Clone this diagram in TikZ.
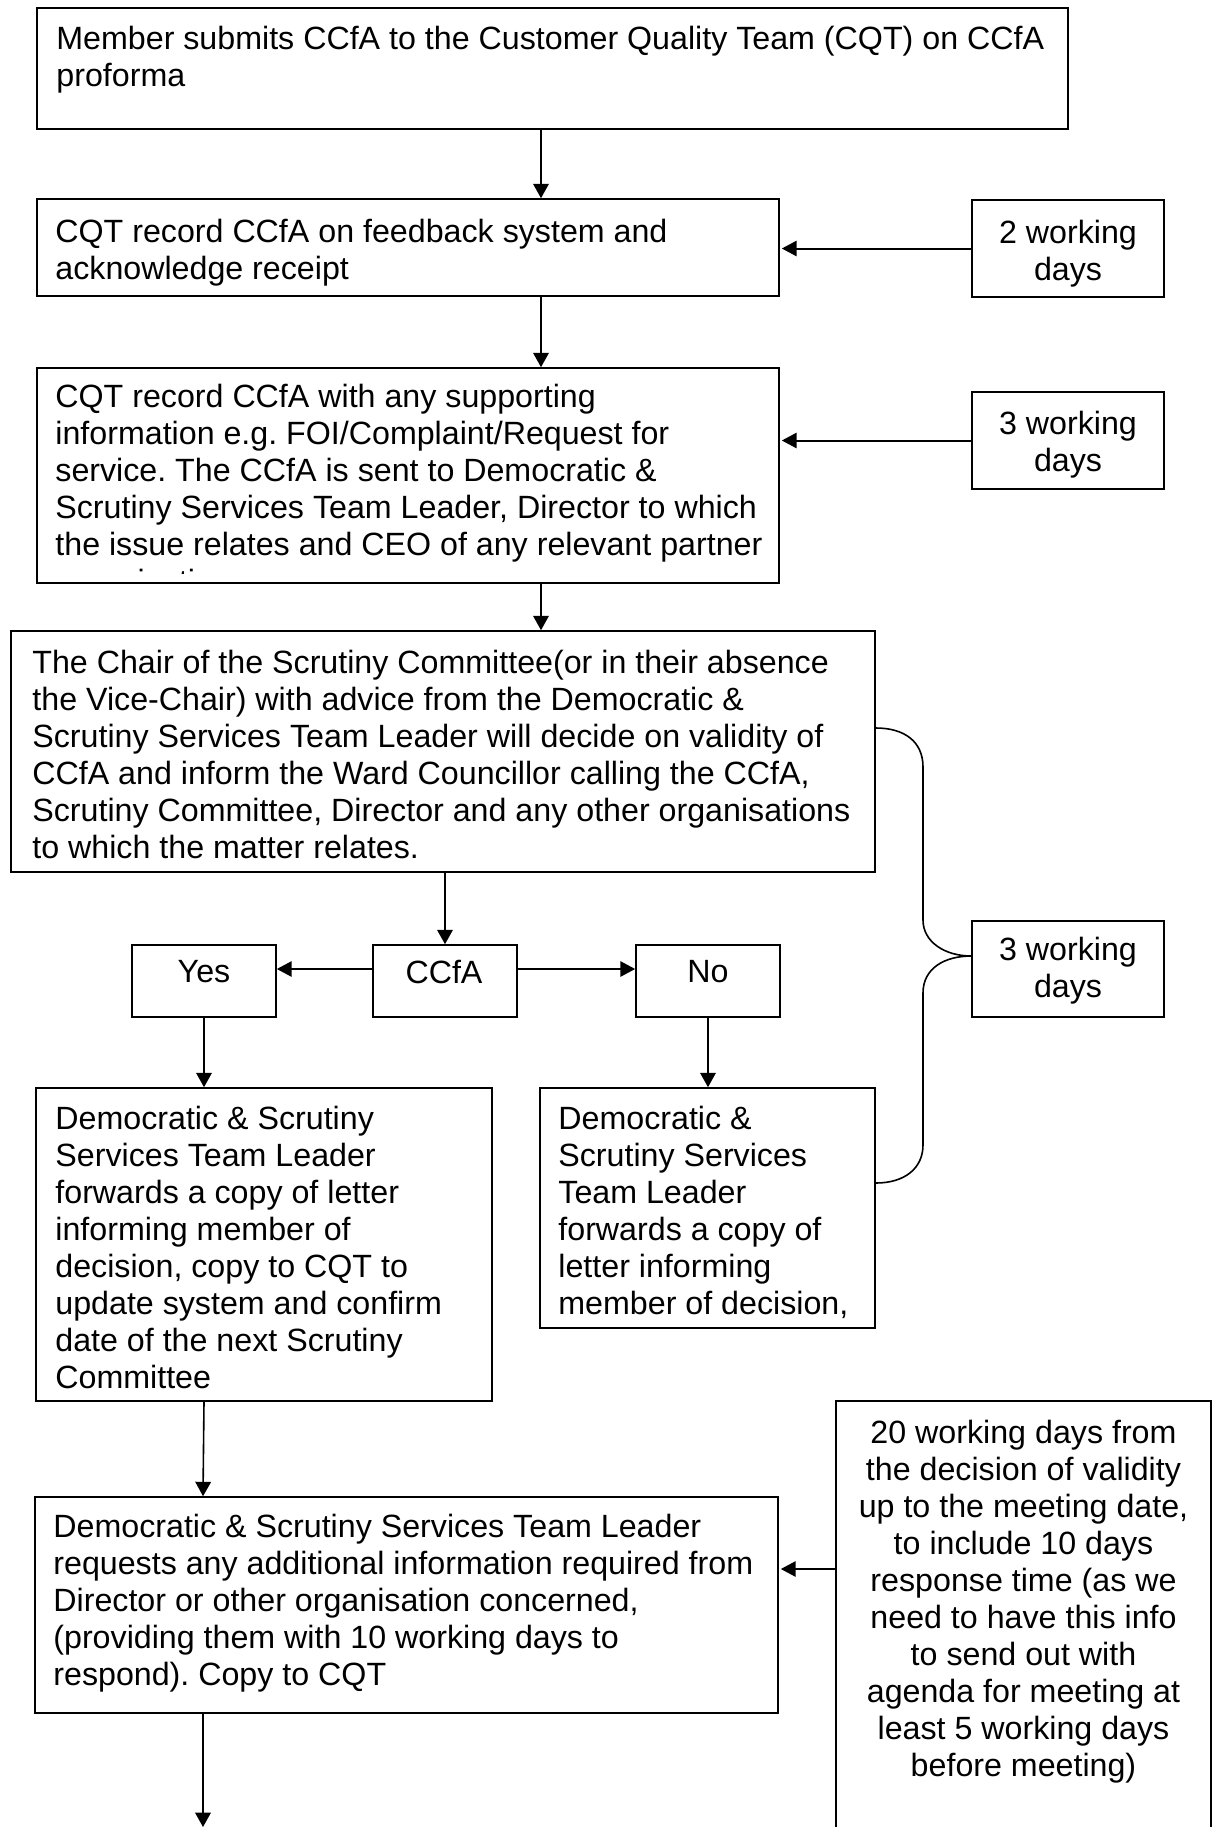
\documentclass[tikz,border=0pt]{standalone}
\usepackage{fontspec}
\setmainfont{Liberation Sans}
\frenchspacing
\usetikzlibrary{arrows.meta,fit}
\begin{document}
\begin{tikzpicture}[x=0.5pt,y=-0.5pt,
  box/.style={draw, line width=0.8pt, inner sep=0pt},
  txt/.style={inner sep=0pt, align=left, anchor=north west, font=\fontsize{16.1pt}{18.5pt}\selectfont},
  ctxt/.style={inner sep=0pt, align=center, anchor=north, font=\fontsize{16.1pt}{18.5pt}\selectfont},
  arr/.style={line width=0.8pt, -{Triangle[length=7.2pt,width=7.8pt]}},
  harr/.style={line width=1pt, -{Triangle[length=7.4pt,width=7.6pt]}},
  link/.style={line width=0.8pt}]
\useasboundingbox (0,0) rectangle (1213,1827);

% boxes
\node[box, fit={(37,8)(1068,129)}] (b1) {};
\node[box, fit={(37,199)(779,296)}] (b2) {};
\node[box, fit={(972,200)(1164,297)}] (t2) {};
\node[box, fit={(37,368)(779,583)}] (b3) {};
\node[box, fit={(972,392)(1164,489)}] (t3) {};
\node[box, fit={(11,631)(875,872)}] (b4) {};
\node[box, fit={(373,945)(517,1017)}] (ccfa) {};
\node[box, fit={(132,945)(276,1017)}] (yes) {};
\node[box, fit={(636,945)(780,1017)}] (no) {};
\node[box, fit={(972,921)(1164,1017)}] (t4) {};
\node[box, fit={(36,1088)(492,1401)}] (yl) {};
\node[box, fit={(540,1088)(875,1328)}] (nl) {};
\node[box, fit={(35,1497)(778,1713)}] (rq) {};
\node[box, fit={(836,1401)(1211,1840)}] (t5) {};

% texts
\node[txt] (b1t) at (56,26) {Member submits CCfA to the Customer Quality Team (CQT) on CCfA\\proforma};
\node[txt] (b2t) at (55,219) {CQT record CCfA on feedback system and\\acknowledge receipt};
\begin{scope}
\clip (38,369) rectangle (778,573);
\node[txt] (b3t) at (55,384) {CQT record CCfA with any supporting\\information e.g. FOI/Complaint/Request for\\service. The CCfA is sent to Democratic \&\\Scrutiny Services Team Leader, Director to which\\the issue relates and CEO of any relevant partner\\organisation};
\end{scope}
\node[ctxt] (t2t) at (1068,220) {2 working\\days};
\node[ctxt] (t3t) at (1068,411) {3 working\\days};
\node[txt] (b4t) at (32,650) {The Chair of the Scrutiny Committee(or in their absence\\the Vice-Chair) with advice from the Democratic \&\\Scrutiny Services Team Leader will decide on validity of\\CCfA and inform the Ward Councillor calling the CCfA,\\Scrutiny Committee, Director and any other organisations\\to which the matter relates.};
\node[ctxt] (yest) at (204,960) {Yes};
\node[ctxt] (ccfat) at (444,960) {CCfA};
\node[ctxt] (not) at (708,960) {No};
\node[ctxt] (t4t) at (1068,937) {3 working\\days};
\node[txt] (ylt) at (55,1106) {Democratic \& Scrutiny\\Services Team Leader\\forwards a copy of letter\\informing member of\\decision, copy to CQT to\\update system and confirm\\date of the next Scrutiny\\Committee};
\node[txt] (nlt) at (558,1106) {Democratic \&\\Scrutiny Services\\Team Leader\\forwards a copy of\\letter informing\\member of decision,};
\node[txt] (rqt) at (53,1514) {Democratic \& Scrutiny Services Team Leader\\requests any additional information required from\\Director or other organisation concerned,\\(providing them with 10 working days to\\respond). Copy to CQT};
\node[ctxt] (t5t) at (1023.5,1420) {20 working days from\\the decision of validity\\up to the meeting date,\\to include 10 days\\response time (as we\\need to have this info\\to send out with\\agenda for meeting at\\least 5 working days\\before meeting)};

% helper coordinates
\coordinate (xa) at (541,0);
\coordinate (xb) at (204,0);
\coordinate (xc) at (203,0);
\coordinate (ya) at (0,969);
\coordinate (yc) at (0,1569);
\coordinate (ybt) at (0,728);
\coordinate (ytip) at (0,956);
\coordinate (ybb) at (0,1183);
\coordinate (endpt) at (203,1827);

% connectors
\draw[arr] (b1.south -| xa) -- (b2.north -| xa);
\draw[arr] (b2.south -| xa) -- (b3.north -| xa);
\draw[arr] (b3.south -| xa) -- (b4.north -| xa);
\draw[harr] (t2.west) -- ([xshift=1pt]t2.west -| b2.east);
\draw[harr] (t3.west) -- ([xshift=1pt]t3.west -| b3.east);
\draw[arr] (ccfa.north |- b4.south) -- (ccfa.north);
\draw[harr] (ccfa.west |- ya) -- (yes.east |- ya);
\draw[harr] (ccfa.east |- ya) -- (no.west |- ya);
\draw[arr] (yes.south) -- (yes.south |- yl.north);
\draw[arr] (no.south) -- (no.south |- nl.north);
\draw[arr] (yl.south -| xb) -- (rq.north -| xc);
\draw[harr] (t5.west |- yc) -- ([xshift=1pt]rq.east |- yc);
\draw[arr] (rq.south -| xc) -- (endpt);

% brace
\draw[link] (b4.east |- ybt) .. controls (905,728) and (923,742) .. (923,767) -- (923,920)
  .. controls (923,942) and (945,956) .. (t4.west |- ytip);
\draw[link] (t4.west |- ytip) .. controls (945,956) and (923,968) .. (923,993) -- (923,1145)
  .. controls (923,1168) and (905,1183) .. (nl.east |- ybb);
\end{tikzpicture}
\end{document}
